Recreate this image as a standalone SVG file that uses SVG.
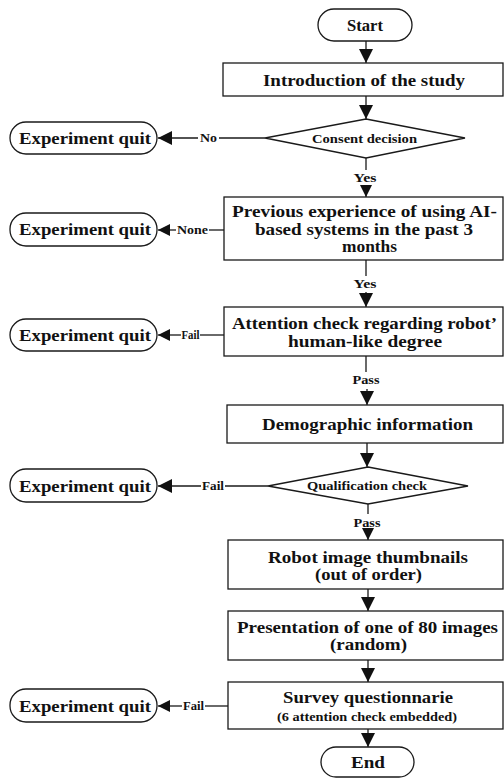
<svg xmlns="http://www.w3.org/2000/svg" width="504" height="778" viewBox="0 0 504 778">
<style>
.shape{fill:#fff;stroke:#1a1a1a;stroke-width:1.3}
.t{font-family:'Liberation Serif','Times New Roman',serif;font-weight:700;fill:#111;text-anchor:middle;dominant-baseline:central}
.big{font-size:17.5px}
.mid{font-size:13px}
.lbl{font-size:11.5px}
.sm{font-size:12.5px}
.ln{stroke:#1a1a1a;stroke-width:1.3;fill:none}
</style>
<defs>
<marker id="ah" markerUnits="userSpaceOnUse" markerWidth="14" markerHeight="14" refX="14" refY="7" orient="auto">
<path d="M0,0 L14,7 L0,14 z" fill="#111"/>
</marker>
<marker id="ahs" markerUnits="userSpaceOnUse" markerWidth="12" markerHeight="12" refX="12" refY="6" orient="auto">
<path d="M0,0 L12,6 L0,12 z" fill="#111"/>
</marker>
</defs>
<g id="connectors">
<line class="ln" x1="366" y1="41" x2="366" y2="63" marker-end="url(#ah)"/>
<line class="ln" x1="366" y1="96" x2="366" y2="119" marker-end="url(#ah)"/>
<line class="ln" x1="265" y1="138" x2="219" y2="138"/>
<line class="ln" x1="198" y1="138" x2="158" y2="138" marker-end="url(#ah)"/>
<text class="t lbl" x="208.5" y="138" textLength="17" lengthAdjust="spacingAndGlyphs">No</text>
<line class="ln" x1="366" y1="158" x2="366" y2="170"/>
<text class="t lbl" x="365" y="178" textLength="23" lengthAdjust="spacingAndGlyphs">Yes</text>
<line class="ln" x1="366" y1="186" x2="366" y2="197" marker-end="url(#ahs)"/>
<line class="ln" x1="224" y1="230" x2="209" y2="230"/>
<line class="ln" x1="176" y1="230" x2="158" y2="230" marker-end="url(#ahs)"/>
<text class="t lbl" x="192.5" y="230" textLength="31" lengthAdjust="spacingAndGlyphs">None</text>
<line class="ln" x1="366" y1="260" x2="366" y2="276"/>
<text class="t lbl" x="365" y="284" textLength="23" lengthAdjust="spacingAndGlyphs">Yes</text>
<line class="ln" x1="366" y1="292" x2="366" y2="307" marker-end="url(#ah)"/>
<line class="ln" x1="224" y1="335" x2="200" y2="335"/>
<line class="ln" x1="181" y1="335" x2="158" y2="335" marker-end="url(#ahs)"/>
<text class="t lbl" x="190.5" y="335" textLength="18" lengthAdjust="spacingAndGlyphs">Fail</text>
<line class="ln" x1="366" y1="356" x2="366" y2="372"/>
<text class="t lbl" x="366" y="380" textLength="27" lengthAdjust="spacingAndGlyphs">Pass</text>
<line class="ln" x1="367" y1="389" x2="367" y2="405" marker-end="url(#ah)"/>
<line class="ln" x1="367" y1="443" x2="367" y2="467" marker-end="url(#ah)"/>
<line class="ln" x1="268" y1="486" x2="225" y2="486"/>
<line class="ln" x1="201" y1="486" x2="158" y2="486" marker-end="url(#ah)"/>
<text class="t lbl" x="213" y="486" textLength="22" lengthAdjust="spacingAndGlyphs">Fail</text>
<line class="ln" x1="368" y1="504" x2="368" y2="514"/>
<text class="t lbl" x="367" y="523" textLength="27" lengthAdjust="spacingAndGlyphs">Pass</text>
<line class="ln" x1="368" y1="531" x2="368" y2="540" marker-end="url(#ahs)"/>
<line class="ln" x1="368" y1="589" x2="368" y2="611" marker-end="url(#ah)"/>
<line class="ln" x1="368" y1="660" x2="368" y2="682" marker-end="url(#ah)"/>
<line class="ln" x1="228" y1="706" x2="205" y2="706"/>
<line class="ln" x1="182" y1="706" x2="158" y2="706" marker-end="url(#ahs)"/>
<text class="t lbl" x="193.5" y="706" textLength="21" lengthAdjust="spacingAndGlyphs">Fail</text>
<line class="ln" x1="368" y1="729" x2="368" y2="747" marker-end="url(#ah)"/>
</g>
<g id="start"><rect class="shape" x="318" y="9" width="94" height="32" rx="16"/><text class="t big" x="365" y="25" textLength="36" lengthAdjust="spacingAndGlyphs">Start</text></g>
<g id="intro"><rect class="shape" x="223" y="63" width="280" height="33"/><text class="t big" x="364" y="80" textLength="202" lengthAdjust="spacingAndGlyphs">Introduction of the study</text></g>
<g id="consent"><polygon class="shape" points="366,119 465,138 366,158 265,138"/><text class="t mid" x="364.5" y="138" textLength="105" lengthAdjust="spacingAndGlyphs">Consent decision</text></g>
<g id="quit1"><rect class="shape" x="10" y="122" width="147" height="32" rx="16"/><text class="t big" x="85" y="138" textLength="132" lengthAdjust="spacingAndGlyphs">Experiment quit</text></g>
<g id="experience"><rect class="shape" x="224" y="197" width="279" height="63"/><text class="t big" x="364.5" y="211" textLength="265" lengthAdjust="spacingAndGlyphs">Previous experience of using AI-</text><text class="t big" x="364" y="228.5" textLength="218" lengthAdjust="spacingAndGlyphs">based systems in the past 3</text><text class="t big" x="369.5" y="246" textLength="55" lengthAdjust="spacingAndGlyphs">months</text></g>
<g id="quit2"><rect class="shape" x="10" y="213" width="147" height="33" rx="16"/><text class="t big" x="85" y="229" textLength="132" lengthAdjust="spacingAndGlyphs">Experiment quit</text></g>
<g id="attention"><rect class="shape" x="224" y="307" width="279" height="49"/><text class="t big" x="364.5" y="323" textLength="265" lengthAdjust="spacingAndGlyphs">Attention check regarding robot’</text><text class="t big" x="365" y="341" textLength="154" lengthAdjust="spacingAndGlyphs">human-like degree</text></g>
<g id="quit3"><rect class="shape" x="10" y="319" width="147" height="32" rx="16"/><text class="t big" x="85" y="335" textLength="132" lengthAdjust="spacingAndGlyphs">Experiment quit</text></g>
<g id="demographic"><rect class="shape" x="227" y="405" width="276" height="38"/><text class="t big" x="367.5" y="424" textLength="211" lengthAdjust="spacingAndGlyphs">Demographic information</text></g>
<g id="qualification"><polygon class="shape" points="368,467 468,486 368,504 268,486"/><text class="t mid" x="367" y="485" textLength="120" lengthAdjust="spacingAndGlyphs">Qualification check</text></g>
<g id="quit4"><rect class="shape" x="10" y="469" width="147" height="33" rx="16"/><text class="t big" x="85" y="486" textLength="132" lengthAdjust="spacingAndGlyphs">Experiment quit</text></g>
<g id="thumbnails"><rect class="shape" x="228" y="540" width="275" height="49"/><text class="t big" x="368" y="557" textLength="200" lengthAdjust="spacingAndGlyphs">Robot image thumbnails</text><text class="t big" x="368.5" y="574" textLength="107" lengthAdjust="spacingAndGlyphs">(out of order)</text></g>
<g id="presentation"><rect class="shape" x="228" y="611" width="275" height="49"/><text class="t big" x="367.5" y="627" textLength="261" lengthAdjust="spacingAndGlyphs">Presentation of one of 80 images</text><text class="t big" x="368.5" y="644" textLength="77" lengthAdjust="spacingAndGlyphs">(random)</text></g>
<g id="survey"><rect class="shape" x="228" y="682" width="275" height="47"/><text class="t big" x="368" y="697" textLength="170" lengthAdjust="spacingAndGlyphs">Survey questionnarie</text><text class="t sm" x="367" y="717" textLength="180" lengthAdjust="spacingAndGlyphs">(6 attention check embedded)</text></g>
<g id="quit5"><rect class="shape" x="10" y="689" width="147" height="33" rx="16"/><text class="t big" x="85" y="706" textLength="132" lengthAdjust="spacingAndGlyphs">Experiment quit</text></g>
<g id="end"><rect class="shape" x="321" y="747" width="93" height="30" rx="15"/><text class="t big" x="368" y="762" textLength="34" lengthAdjust="spacingAndGlyphs">End</text></g>
</svg>
